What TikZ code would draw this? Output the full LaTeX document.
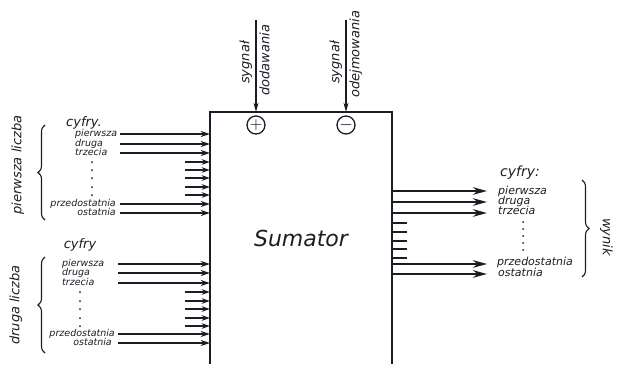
\documentclass[tikz,border=0pt]{standalone}
\usepackage{fontspec}
\setmainfont{DejaVu Sans}
\usepackage{tikz}
\usetikzlibrary{arrows.meta, positioning, decorations.pathreplacing}
\definecolor{sumink}{HTML}{1C1C24}

\tikzset{
  lbl/.style={font=\itshape\fontsize{9.5}{9.5}\selectfont, inner sep=0pt,
              text height=6.5pt, text depth=2pt, text=sumink},
  rlbl/.style={font=\itshape\fontsize{11}{11}\selectfont, inner sep=0pt,
               text height=8pt, text depth=2.5pt, text=sumink},
  biglbl/.style={font=\itshape\fontsize{13}{13}\selectfont, inner sep=0pt,
                 text height=9.5pt, text depth=3pt, text=sumink},
  longin/.style={draw=sumink, line width=2.2pt, -{Stealth[length=9pt,width=6pt]}},
  shortin/.style={draw=sumink, line width=1.8pt, -{Stealth[length=8pt,width=5.5pt]}},
  longout/.style={draw=sumink, line width=2.2pt, -{Stealth[length=14pt,width=7.5pt]}},
  stub/.style={draw=sumink, line width=1.8pt},
  sigarrow/.style={draw=sumink, line width=1.1pt, -{Stealth[length=9pt,width=5pt]}},
  digitbrace/.style={draw=sumink, line width=1.1pt, decorate,
                     decoration={brace, amplitude=7pt}},
  signcircle/.style={draw=sumink, circle, line width=1.3pt, minimum size=18pt,
                     inner sep=0pt, font=\fontsize{16}{16}\selectfont}
}

\begin{document}
\begin{tikzpicture}[x=1pt, y=-1pt]
\useasboundingbox (0,0) rectangle (617,364);

% the adder block, open at the bottom edge of the page
\node[minimum width=182pt, minimum height=252pt, inner sep=0pt, text=sumink,
      font=\itshape\fontsize{22}{22}\selectfont] (sum) at (301,238) {Sumator};
\draw[sumink, line width=1.8pt] (sum.south west) |- (sum.north east) -- (sum.south east);

% control signals
\node[signcircle] (plus) at (256,125) {$+$};
\node[signcircle] (minus) at (346,125) {$-$};
\coordinate (addtop) at (256,20);
\coordinate (subtop) at (346,20);
\draw[sigarrow] (addtop) -- (addtop |- sum.north);
\draw[sigarrow] (subtop) -- (subtop |- sum.north);
\node[biglbl, rotate=90, anchor=west] (addsig) at (246,84) {sygnał};
\node[biglbl, rotate=90, anchor=west] (addname) at (266,96) {dodawania};
\node[biglbl, rotate=90, anchor=west] (subsig) at (336,84) {sygnał};
\node[biglbl, rotate=90, anchor=west] (subname) at (356,98) {odejmowania};

% first number
\node[biglbl, rotate=90] (firstnum) at (18,165) {pierwsza liczba};
\draw[digitbrace] (45,220) -- (45,125);
\node[biglbl] (firstdigits) at (84,123) {cyfry.};
\node[lbl, anchor=west] (fa) at (75,134) {pierwsza};
\node[lbl, anchor=west] (fb) at (75,144) {druga};
\node[lbl, anchor=west] (fc) at (75,153) {trzecia};
\node[lbl, anchor=east] (fy) at (116,204) {przedostatnia};
\node[lbl, anchor=east] (fz) at (116,213) {ostatnia};
\foreach \y in {134,144,153,204,213} {
  \coordinate (fin\y) at (120,\y);
  \draw[longin] (fin\y) -- (fin\y -| sum.west);
}
\foreach \y in {162,170,178,187,195} {
  \coordinate (fsh\y) at (185,\y);
  \draw[shortin] (fsh\y) -- (fsh\y -| sum.west);
  \fill[sumink] (92,\y) circle (1pt);
}

% second number
\node[biglbl, rotate=90] (secondnum) at (16,305) {druga liczba};
\draw[digitbrace] (45,353) -- (45,257);
\node[biglbl] (seconddigits) at (80,245) {cyfry};
\node[lbl, anchor=west] (sa) at (62,264) {pierwsza};
\node[lbl, anchor=west] (sb) at (62,273) {druga};
\node[lbl, anchor=west] (sc) at (62,283) {trzecia};
\node[lbl, anchor=east] (sy) at (115,334) {przedostatnia};
\node[lbl, anchor=east] (sz) at (112,343) {ostatnia};
\foreach \y in {264,273,283,334,343} {
  \coordinate (sin\y) at (118,\y);
  \draw[longin] (sin\y) -- (sin\y -| sum.west);
}
\foreach \y in {292,301,309,318,326} {
  \coordinate (ssh\y) at (185,\y);
  \draw[shortin] (ssh\y) -- (ssh\y -| sum.west);
  \fill[sumink] (80,\y) circle (1pt);
}

% result
\foreach \y in {191,202,213,264,274} {
  \coordinate (out\y) at (487,\y);
  \draw[longout] (out\y -| sum.east) -- (out\y);
}
\foreach \y [count=\i] in {223,232,241,249,258} {
  \coordinate (stub\y) at (407,\y);
  \draw[stub] (stub\y -| sum.east) -- (stub\y);
  \fill[sumink] (523,215+7*\i) circle (1pt);
}
\node[biglbl, anchor=west, font=\itshape\fontsize{14}{14}\selectfont] (resdigits) at (500,173) {cyfry:};
\node[rlbl, anchor=west] (ra) at (498,192) {pierwsza};
\node[rlbl, anchor=west] (rb) at (498,202) {druga};
\node[rlbl, anchor=west] (rc) at (498,212) {trzecia};
\node[rlbl, anchor=west] (ry) at (497,263) {przedostatnia};
\node[rlbl, anchor=west] (rz) at (498,274) {ostatnia};
\draw[digitbrace] (582,180) -- (582,277);
\node[biglbl, rotate=-90] (result) at (606,237) {wynik};
\end{tikzpicture}
\end{document}
